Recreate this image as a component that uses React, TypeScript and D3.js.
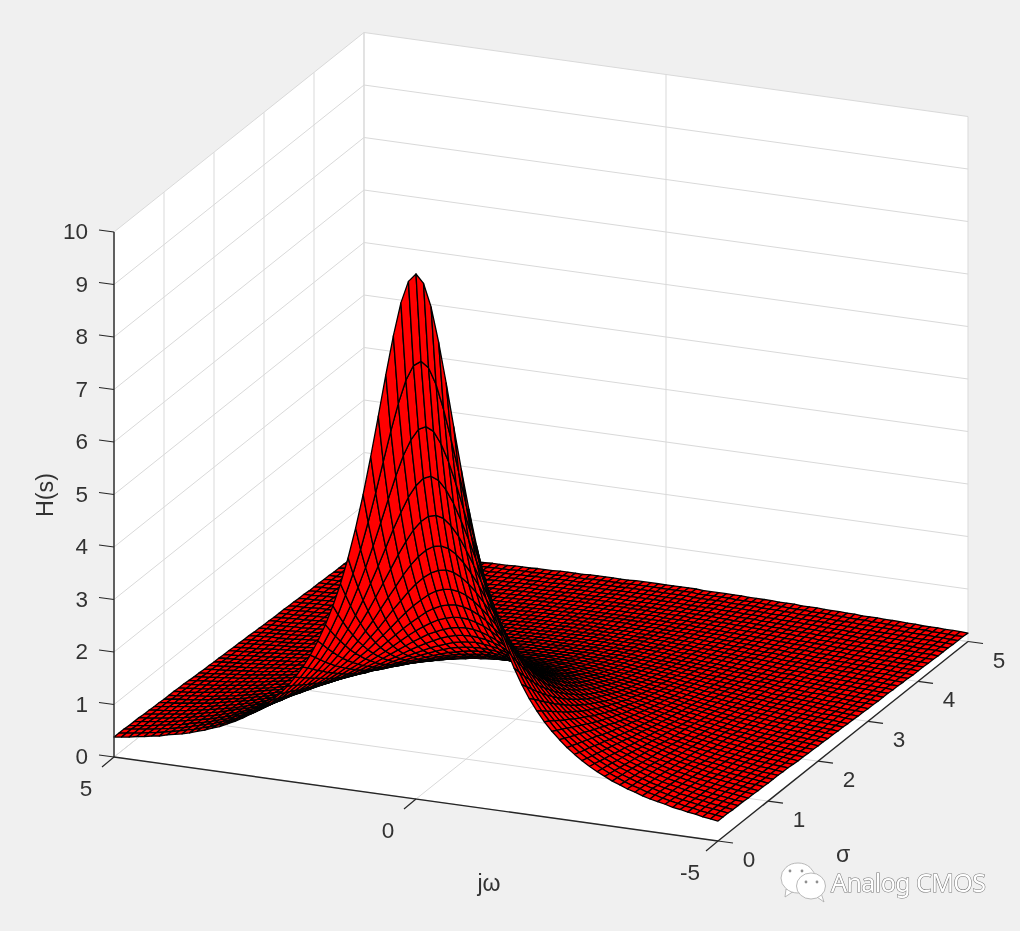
import React from "react";
import * as d3 from "d3";

// Surface heights in hundredths of H(s). One row per sigma (0, 0.1 ... 5), one column per |omega| (0, 0.125 ... 5).
const heightRows: number[][] = [
[1000,984,941,876,800,719,640,566,500,441,390,346,308,275,246,221,200,181,165,151,138,127,117,108,100,93,86,81,75,71,66,62,59,56,52,50,47,45,42,40,38],
[826,816,786,740,685,625,564,506,452,404,361,322,289,260,234,212,192,175,159,146,134,123,114,106,98,91,85,79,74,70,65,62,58,55,52,49,47,44,42,40,38],
[694,687,665,633,592,546,499,453,410,370,333,300,271,245,222,202,184,168,154,141,130,120,111,103,96,89,83,78,73,69,65,61,57,54,51,49,46,44,42,40,38],
[592,586,570,546,515,481,444,407,372,338,307,279,254,231,210,192,176,161,148,136,126,117,108,100,94,87,82,76,72,67,63,60,57,53,51,48,46,43,41,39,37],
[510,506,494,476,452,425,396,367,338,310,284,260,238,217,199,183,168,154,142,132,122,113,105,98,91,85,80,75,70,66,62,59,56,53,50,47,45,43,41,39,37],
[444,441,432,418,400,379,355,332,308,284,262,241,222,204,188,173,160,148,137,127,118,109,102,95,89,83,78,73,69,65,61,58,55,52,49,47,44,42,40,38,37],
[391,388,381,370,356,339,320,301,281,261,243,225,208,192,178,165,152,141,131,122,114,106,99,92,87,81,76,72,68,64,60,57,54,51,48,46,44,42,40,38,36],
[346,344,339,330,318,305,290,274,257,241,225,209,195,181,168,156,145,135,126,117,109,102,96,90,84,79,74,70,66,62,59,56,53,50,48,45,43,41,39,38,36],
[309,307,303,296,287,275,263,250,236,222,208,195,182,170,159,148,138,129,120,113,105,99,93,87,82,77,72,68,65,61,58,55,52,49,47,45,43,41,39,37,35],
[277,276,272,267,259,250,240,229,217,205,193,182,171,160,150,140,131,123,115,108,101,95,90,84,79,75,71,67,63,60,57,54,51,48,46,44,42,40,38,37,35],
[250,249,246,241,235,228,219,210,200,190,180,170,160,151,142,133,125,117,110,104,98,92,86,82,77,73,69,65,62,58,55,53,50,48,45,43,41,39,38,36,34],
[227,226,224,220,215,208,201,193,185,176,167,159,150,142,134,126,119,112,106,99,94,88,84,79,75,71,67,63,60,57,54,51,49,47,44,42,41,39,37,35,34],
[207,206,204,201,196,191,185,178,171,164,156,149,141,134,127,120,113,107,101,95,90,85,81,76,72,68,65,62,59,56,53,50,48,46,44,42,40,38,36,35,34],
[189,188,187,184,181,176,171,165,159,153,146,139,133,126,120,114,108,102,97,91,87,82,78,74,70,66,63,60,57,54,52,49,47,45,43,41,39,37,36,34,33],
[174,173,172,169,166,163,158,153,148,142,137,131,125,119,113,108,102,97,92,88,83,79,75,71,68,64,61,58,56,53,50,48,46,44,42,40,38,37,35,34,33],
[160,160,158,156,154,151,147,143,138,133,128,123,118,112,107,102,98,93,88,84,80,76,72,69,66,62,59,57,54,52,49,47,45,43,41,39,38,36,35,33,32],
[148,148,147,145,143,140,137,133,129,125,120,116,111,106,102,97,93,89,85,81,77,73,70,67,63,61,58,55,53,50,48,46,44,42,40,39,37,36,34,33,31],
[137,137,136,135,133,130,127,124,121,117,113,109,105,101,97,93,89,85,81,77,74,71,67,64,61,59,56,54,51,49,47,45,43,41,39,38,36,35,33,32,31],
[128,127,127,125,124,121,119,116,113,110,106,103,99,95,92,88,84,81,78,74,71,68,65,62,59,57,54,52,50,48,46,44,42,40,39,37,36,34,33,32,30],
[119,119,118,117,115,114,111,109,106,103,100,97,94,90,87,84,81,77,74,71,68,65,63,60,57,55,53,51,48,46,44,43,41,39,38,36,35,34,32,31,30],
[111,111,110,109,108,106,105,102,100,97,95,92,89,86,83,80,77,74,71,68,66,63,60,58,56,53,51,49,47,45,43,42,40,38,37,36,34,33,32,31,29],
[104,104,103,103,101,100,98,96,94,92,90,87,84,82,79,76,73,71,68,66,63,61,58,56,54,52,50,48,46,44,42,41,39,38,36,35,33,32,31,30,29],
[98,98,97,96,95,94,93,91,89,87,85,82,80,78,75,73,70,68,65,63,61,58,56,54,52,50,48,46,44,43,41,40,38,37,35,34,33,32,30,29,28],
[92,92,91,91,90,89,87,86,84,82,80,78,76,74,72,69,67,65,63,60,58,56,54,52,50,48,47,45,43,42,40,39,37,36,35,33,32,31,30,29,28],
[87,86,86,85,85,84,82,81,80,78,76,74,72,70,68,66,64,62,60,58,56,54,52,50,49,47,45,44,42,40,39,38,36,35,34,33,31,30,29,28,27],
[82,82,81,81,80,79,78,77,75,74,72,71,69,67,65,63,62,60,58,56,54,52,50,49,47,45,44,42,41,39,38,37,35,34,33,32,31,30,29,28,27],
[77,77,77,76,76,75,74,73,72,70,69,67,66,64,62,61,59,57,55,54,52,50,49,47,46,44,43,41,40,38,37,36,35,33,32,31,30,29,28,27,26],
[73,73,73,72,72,71,70,69,68,67,66,64,63,61,60,58,57,55,53,52,50,49,47,46,44,43,41,40,39,37,36,35,34,33,31,30,29,29,28,27,26],
[69,69,69,69,68,67,67,66,65,64,62,61,60,59,57,56,54,53,51,50,48,47,45,44,43,41,40,39,37,36,35,34,33,32,31,30,29,28,27,26,25],
[66,66,65,65,65,64,63,63,62,61,60,58,57,56,55,53,52,51,49,48,47,45,44,43,41,40,39,38,36,35,34,33,32,31,30,29,28,27,26,26,25],
[63,62,62,62,62,61,60,60,59,58,57,56,55,54,52,51,50,49,47,46,45,44,42,41,40,39,38,37,35,34,33,32,31,30,29,28,28,27,26,25,24],
[59,59,59,59,59,58,58,57,56,55,54,53,52,51,50,49,48,47,46,45,43,42,41,40,39,38,37,35,34,33,32,31,30,30,29,28,27,26,25,25,24],
[57,57,56,56,56,55,55,54,54,53,52,51,50,49,48,47,46,45,44,43,42,41,40,39,38,36,35,34,33,32,32,31,30,29,28,27,26,26,25,24,23],
[54,54,54,54,53,53,52,52,51,51,50,49,48,47,46,45,44,43,42,41,40,39,38,37,36,35,34,33,33,32,31,30,29,28,27,27,26,25,24,24,23],
[52,52,51,51,51,51,50,50,49,48,48,47,46,45,45,44,43,42,41,40,39,38,37,36,35,34,33,33,32,31,30,29,28,27,27,26,25,25,24,23,23],
[49,49,49,49,49,48,48,48,47,46,46,45,44,44,43,42,41,40,40,39,38,37,36,35,34,33,32,32,31,30,29,28,28,27,26,25,25,24,23,23,22],
[47,47,47,47,47,46,46,46,45,45,44,43,43,42,41,41,40,39,38,37,36,36,35,34,33,32,32,31,30,29,28,28,27,26,25,25,24,24,23,22,22],
[45,45,45,45,45,44,44,44,43,43,42,42,41,40,40,39,38,38,37,36,35,35,34,33,32,31,31,30,29,28,28,27,26,26,25,24,24,23,22,22,21],
[43,43,43,43,43,43,42,42,42,41,41,40,40,39,38,38,37,36,36,35,34,33,33,32,31,30,30,29,28,28,27,26,26,25,24,24,23,23,22,21,21],
[42,42,42,41,41,41,41,40,40,40,39,39,38,38,37,36,36,35,34,34,33,32,32,31,30,30,29,28,28,27,26,26,25,24,24,23,23,22,21,21,20],
[40,40,40,40,40,39,39,39,38,38,38,37,37,36,36,35,34,34,33,33,32,31,31,30,29,29,28,27,27,26,26,25,24,24,23,23,22,22,21,21,20],
[38,38,38,38,38,38,38,37,37,37,36,36,35,35,34,34,33,33,32,32,31,30,30,29,29,28,27,27,26,26,25,24,24,23,23,22,22,21,21,20,20],
[37,37,37,37,37,36,36,36,36,35,35,35,34,34,33,33,32,32,31,31,30,29,29,28,28,27,27,26,25,25,24,24,23,23,22,22,21,21,20,20,19],
[36,36,36,35,35,35,35,35,34,34,34,33,33,33,32,32,31,31,30,30,29,29,28,28,27,26,26,25,25,24,24,23,23,22,22,21,21,20,20,19,19],
[34,34,34,34,34,34,34,33,33,33,33,32,32,31,31,31,30,30,29,29,28,28,27,27,26,26,25,25,24,24,23,23,22,22,21,21,20,20,19,19,18],
[33,33,33,33,33,33,32,32,32,32,31,31,31,30,30,30,29,29,28,28,27,27,26,26,25,25,25,24,24,23,23,22,22,21,21,20,20,19,19,19,18],
[32,32,32,32,32,31,31,31,31,31,30,30,30,29,29,29,28,28,27,27,27,26,26,25,25,24,24,23,23,22,22,22,21,21,20,20,19,19,19,18,18],
[31,31,31,31,31,30,30,30,30,30,29,29,29,28,28,28,27,27,27,26,26,25,25,25,24,24,23,23,22,22,21,21,21,20,20,19,19,19,18,18,17],
[30,30,30,30,30,29,29,29,29,29,28,28,28,28,27,27,27,26,26,25,25,25,24,24,23,23,23,22,22,21,21,21,20,20,19,19,19,18,18,17,17],
[29,29,29,29,29,28,28,28,28,28,27,27,27,27,26,26,26,25,25,25,24,24,24,23,23,22,22,22,21,21,20,20,20,19,19,19,18,18,17,17,17],
[28,28,28,28,28,27,27,27,27,27,27,26,26,26,26,25,25,25,24,24,24,23,23,23,22,22,21,21,21,20,20,20,19,19,18,18,18,17,17,17,16],
];

const omegaTicks = [5, 0, -5];
const sigmaTicks = [0, 1, 2, 3, 4, 5];
const heightTicks = [0, 1, 2, 3, 4, 5, 6, 7, 8, 9, 10];
const omegaStepsPerUnit = 8;
const sigmaStepsPerUnit = 10;

const uScale = d3.scaleLinear().domain([5, -5]).range([0, 1]);
const vScale = d3.scaleLinear().domain([0, 5]).range([0, 1]);
const zScale = d3.scaleLinear().domain([0, 10]).range([0, 525]);

const ORIGIN = [114, 757];
const U_AXIS = [604, 84];
const V_AXIS = [250, -199.5];

function project(omega: number, sigma: number, z: number): [number, number] {
  const u = uScale(omega);
  const v = vScale(sigma);
  return [
    ORIGIN[0] + U_AXIS[0] * u + V_AXIS[0] * v,
    ORIGIN[1] + U_AXIS[1] * u + V_AXIS[1] * v - zScale(z),
  ];
}

const INK = "#262626";
const GRID = "#d9d9d9";
const FONT = "'Liberation Sans', Arial, sans-serif";

function poly(points: [number, number][]) {
  return "M" + points.map((p) => `${p[0].toFixed(2)},${p[1].toFixed(2)}`).join("L") + "Z";
}

function Line({ a, b, color, width }: { a: [number, number]; b: [number, number]; color: string; width: number }) {
  return <line x1={a[0]} y1={a[1]} x2={b[0]} y2={b[1]} stroke={color} strokeWidth={width} />;
}

function Surface() {
  const columns = heightRows[0].length - 1;
  const cells: React.ReactElement[] = [];
  const at = (row: number, k: number): [number, number] =>
    project(k / omegaStepsPerUnit, row / sigmaStepsPerUnit, heightRows[row][Math.abs(k)] / 100);
  for (let row = heightRows.length - 2; row >= 0; row--) {
    for (let k = columns; k > -columns; k--) {
      cells.push(
        <path
          key={`${row}:${k}`}
          d={poly([at(row + 1, k), at(row + 1, k - 1), at(row, k - 1), at(row, k)])}
          fill="#ff0000"
          stroke="#000000"
          strokeWidth={1.3}
          strokeLinejoin="round"
        />
      );
    }
  }
  return <g>{cells}</g>;
}

function Watermark() {
  return (
    <g>
      <g stroke="#a8a8a8" strokeWidth={0.8} fill="#ffffff">
        <path d="M786,889 L785,897 L794,891 Z" />
        <ellipse cx={798} cy={878} rx={17} ry={15} />
        <path d="M817,897 L824,902 L821,893 Z" />
        <ellipse cx={811} cy={886} rx={14.5} ry={13} />
      </g>
      <g fill="#8f8f8f">
        <circle cx={790} cy={871} r={1.4} />
        <circle cx={802} cy={871} r={1.4} />
        <circle cx={806} cy={882} r={1.4} />
        <circle cx={817} cy={882} r={1.4} />
      </g>
      <text
        x={831}
        y={892}
        fontFamily="'Noto Sans', sans-serif"
        fontSize={25}
        fill="#ffffff"
        stroke="#777777"
        strokeWidth={1.1}
        paintOrder="stroke"
        textLength={155}
      >
        Analog CMOS
      </text>
    </g>
  );
}

export default function App() {
  const wall = poly([
    project(5, 0, 0),
    project(5, 0, 10),
    project(5, 5, 10),
    project(-5, 5, 10),
    project(-5, 5, 0),
    project(-5, 0, 0),
  ]);
  const tickLabel = { fontFamily: FONT, fontSize: 22.5, fill: "#333333" };
  return (
    <svg width={1020} height={931} style={{ position: "absolute", left: 0, top: 0 }}>
      <defs>
        <filter id="screenshotSoften" x="0" y="0" width="1" height="1" filterUnits="objectBoundingBox">
          <feGaussianBlur stdDeviation={0.45} />
        </filter>
      </defs>
      <rect width={1020} height={931} fill="#f0f0f0" />
      <g filter="url(#screenshotSoften)">
        <rect width={1020} height={931} fill="#f0f0f0" />
        <path d={wall} fill="#ffffff" />
        {heightTicks.map((z) => (
          <g key={z}>
            <Line a={project(5, 0, z)} b={project(5, 5, z)} color={GRID} width={1} />
            <Line a={project(5, 5, z)} b={project(-5, 5, z)} color={GRID} width={1} />
          </g>
        ))}
        {sigmaTicks.map((s) => (
          <g key={s}>
            <Line a={project(5, s, 0)} b={project(-5, s, 0)} color={GRID} width={1} />
            <Line a={project(5, s, 0)} b={project(5, s, 10)} color={GRID} width={1} />
          </g>
        ))}
        {omegaTicks.map((w) => (
          <g key={w}>
            <Line a={project(w, 0, 0)} b={project(w, 5, 0)} color={GRID} width={1} />
            <Line a={project(w, 5, 0)} b={project(w, 5, 10)} color={GRID} width={1} />
          </g>
        ))}
        <Surface />
        <Line a={project(5, 0, 0)} b={project(5, 0, 10)} color={INK} width={1.4} />
        <Line a={project(5, 0, 0)} b={project(-5, 0, 0)} color={INK} width={1.4} />
        <Line a={project(-5, 0, 0)} b={project(-5, 5, 0)} color={INK} width={1.4} />
        {heightTicks.map((z) => {
          const p = project(5, 0, z);
          return (
            <g key={z}>
              <line x1={p[0]} y1={p[1]} x2={p[0] - 15} y2={p[1] - 2} stroke={INK} strokeWidth={1.2} />
              <text {...tickLabel} x={p[0] - 26} y={p[1] + 7} textAnchor="end">
                {z}
              </text>
            </g>
          );
        })}
        {omegaTicks.map((w) => {
          const p = project(w, 0, 0);
          return (
            <g key={w}>
              <line x1={p[0]} y1={p[1]} x2={p[0] - 12} y2={p[1] + 10} stroke={INK} strokeWidth={1.2} />
              <text {...tickLabel} x={p[0] - 28} y={p[1] + 39} textAnchor="middle">
                {w}
              </text>
            </g>
          );
        })}
        {sigmaTicks.map((s) => {
          const p = project(-5, s, 0);
          return (
            <g key={s}>
              <line x1={p[0]} y1={p[1]} x2={p[0] + 15} y2={p[1] + 2} stroke={INK} strokeWidth={1.2} />
              <text {...tickLabel} x={p[0] + 31} y={p[1] + 26} textAnchor="middle">
                {s}
              </text>
            </g>
          );
        })}
        <text {...tickLabel} fontSize={23} x={489} y={891} textAnchor="middle">
          jω
        </text>
        <text {...tickLabel} fontSize={23} x={843} y={862} textAnchor="middle">
          σ
        </text>
        <text {...tickLabel} fontSize={23.3} transform="translate(53,495) rotate(-90)" textAnchor="middle">
          H(s)
        </text>
        <Watermark />
      </g>
    </svg>
  );
}
